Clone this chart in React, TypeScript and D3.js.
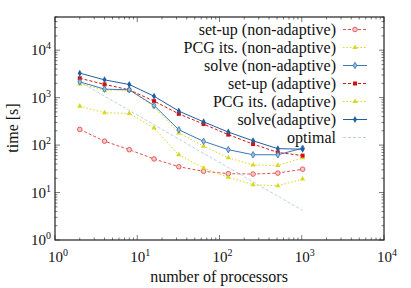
import React, { useEffect, useRef } from "react"
import * as d3 from "d3"

const procs = [2, 4, 8, 16, 32, 64, 128, 256, 512, 1024]
const setupNonAdaptive = [214, 121, 80, 51, 35, 28, 25, 24.5, 25.7, 31]
const pcgNonAdaptive = [1950, 1440, 1440, 641, 181, 95, 54, 38, 37, 54]
const solveNonAdaptive = [2150, 1510, 1460, 685, 210, 120, 80, 62.5, 62.5, 86]
const setupAdaptive = [2560, 1900, 1460, 844, 455, 277, 166, 105, 70, 60]
const pcgAdaptive = [662, 478, 465, 228, 62.5, 33, 21, 14.6, 13.9, 19.2]
const solveAdaptive = [3280, 2370, 1890, 1070, 520, 309, 188, 123, 84, 82]
const optimal = [2150, 1075, 537, 269, 134, 67, 33.6, 16.8, 8.4, 4.2]

const xTicks = [1, 10, 100, 1000, 10000]
const yTicks = [1, 10, 100, 1000, 10000]

const series = [
  { name: "set-up (non-adaptive)", values: setupNonAdaptive, color: "#e05050", dash: "3,2", marker: "ocircle" },
  { name: "PCG its. (non-adaptive)", values: pcgNonAdaptive, color: "#d8d820", dash: "1.5,2", marker: "triangle" },
  { name: "solve (non-adaptive)", values: solveNonAdaptive, color: "#3a78b8", dash: null, marker: "odiamond" },
  { name: "set-up (adaptive)", values: setupAdaptive, color: "#d41010", dash: "3,2", marker: "square" },
  { name: "PCG its. (adaptive)", values: pcgAdaptive, color: "#d8d820", dash: "1.5,2", marker: "triangle" },
  { name: "solve(adaptive)", values: solveAdaptive, color: "#1f5f9f", dash: null, marker: "diamond" },
  { name: "optimal", values: optimal, color: "#b8d2ea", dash: "3,2", marker: null },
]

function drawMarker(g: any, kind: string | null, x: number, y: number, color: string) {
  if (!kind) return
  if (kind === "ocircle") {
    g.append("circle").attr("cx", x).attr("cy", y).attr("r", 2.3)
      .attr("fill", "#f6c8c8").attr("stroke", color).attr("stroke-width", 0.9)
  } else if (kind === "triangle") {
    g.append("path").attr("d", d3.symbol(d3.symbolTriangle, 12)()).attr("transform", `translate(${x},${y})`)
      .attr("fill", color)
  } else if (kind === "odiamond") {
    g.append("path").attr("d", d3.symbol(d3.symbolDiamond, 12)()).attr("transform", `translate(${x},${y})`)
      .attr("fill", "#9cc0e0").attr("stroke", color).attr("stroke-width", 0.9)
  } else if (kind === "square") {
    g.append("rect").attr("x", x - 2).attr("y", y - 2).attr("width", 4).attr("height", 4)
      .attr("fill", color)
  } else if (kind === "diamond") {
    g.append("path").attr("d", d3.symbol(d3.symbolDiamond, 14)()).attr("transform", `translate(${x},${y})`)
      .attr("fill", color)
  }
}

export default function App() {
  const ref = useRef<SVGSVGElement>(null)

  useEffect(() => {
    const svg = d3.select(ref.current)
    svg.selectAll("*").remove()
    const left = 55, right = 384, top = 17, bottom = 240
    const x = d3.scaleLog().domain([1, 10000]).range([left, right])
    const y = d3.scaleLog().domain([1, 50000]).range([bottom, top])
    const fs = 16

    // minor + major ticks, inward, all sides
    const ax = svg.append("g").attr("stroke", "#222")
    const xMinor: number[] = []
    for (let d = 1; d < 10000; d *= 10) for (let k = 2; k < 10; k++) xMinor.push(d * k)
    const yMinor: number[] = []
    for (let d = 1; d < 50000; d *= 10) for (let k = 2; k < 10; k++) if (d * k <= 50000) yMinor.push(d * k)
    xMinor.forEach((v) => {
      ax.append("line").attr("x1", x(v)).attr("x2", x(v)).attr("y1", bottom).attr("y2", bottom - 2.5).attr("stroke-width", 0.6)
      ax.append("line").attr("x1", x(v)).attr("x2", x(v)).attr("y1", top).attr("y2", top + 2.5).attr("stroke-width", 0.6)
    })
    xTicks.forEach((v) => {
      ax.append("line").attr("x1", x(v)).attr("x2", x(v)).attr("y1", bottom).attr("y2", bottom - 5).attr("stroke-width", 0.6)
      ax.append("line").attr("x1", x(v)).attr("x2", x(v)).attr("y1", top).attr("y2", top + 5).attr("stroke-width", 0.6)
    })
    yMinor.forEach((v) => {
      ax.append("line").attr("y1", y(v)).attr("y2", y(v)).attr("x1", left).attr("x2", left + 2.5).attr("stroke-width", 0.6)
      ax.append("line").attr("y1", y(v)).attr("y2", y(v)).attr("x1", right).attr("x2", right - 2.5).attr("stroke-width", 0.6)
    })
    yTicks.forEach((v) => {
      ax.append("line").attr("y1", y(v)).attr("y2", y(v)).attr("x1", left).attr("x2", left + 5).attr("stroke-width", 0.6)
      ax.append("line").attr("y1", y(v)).attr("y2", y(v)).attr("x1", right).attr("x2", right - 5).attr("stroke-width", 0.6)
    })

    const txt = svg.append("g").style("font-family", "'Liberation Serif', 'DejaVu Serif', 'Times New Roman', Times, serif")
      .attr("fill", "#111").style("font-size", fs + "px")

    // tick labels
    xTicks.forEach((v) => {
      const t = txt.append("text").attr("x", x(v) + 3).attr("y", 262).attr("text-anchor", "middle")
        .style("font-size", "15px")
      t.append("tspan").text("10")
      t.append("tspan").attr("dy", -6).style("font-size", "10px").text(String(Math.round(Math.log10(v))))
    })
    yTicks.forEach((v) => {
      const t = txt.append("text").attr("x", left - 4).attr("y", y(v) + 5).attr("text-anchor", "end")
        .style("font-size", "15px")
      t.append("tspan").text("10")
      t.append("tspan").attr("dy", -6).style("font-size", "10px").text(String(Math.round(Math.log10(v))))
    })

    txt.append("text").attr("x", 219).attr("y", 282).attr("text-anchor", "middle")
      .text("number of processors")
    txt.append("text").attr("transform", `translate(18,128) rotate(-90)`).attr("text-anchor", "middle")
      .text("time [s]")

    // legend
    series.forEach((s, i) => {
      const ly = 29.5 + 18 * i
      txt.append("text").attr("x", 336).attr("y", ly + 5).attr("text-anchor", "end").text(s.name)
      svg.append("line").attr("x1", 343).attr("x2", 367).attr("y1", ly).attr("y2", ly)
        .attr("stroke", s.color).attr("stroke-width", 1).attr("stroke-dasharray", s.dash)
      drawMarker(svg, s.marker, 355, ly, s.color)
    })

    // series (draw optimal first)
    const line = d3.line<number>().x((_, i) => x(procs[i])).y((d) => y(d))
    const order = [6, 0, 4, 1, 3, 2, 5]
    order.forEach((idx) => {
      const s = series[idx]
      const g = svg.append("g")
      g.append("path").attr("d", line(s.values)).attr("fill", "none").attr("stroke", s.color)
        .attr("stroke-width", 1).attr("stroke-dasharray", s.dash)
      s.values.forEach((v, i) => drawMarker(g, s.marker, x(procs[i]), y(v), s.color))
    })

    // frame
    svg.append("rect").attr("x", left).attr("y", top).attr("width", right - left).attr("height", bottom - top)
      .attr("fill", "none").attr("stroke", "#222").attr("stroke-width", 1.2)
  }, [])

  return <svg ref={ref} width={411} height={288} style={{ display: "block", position: "absolute", left: 0, top: 0, background: "#fff" }} />
}
